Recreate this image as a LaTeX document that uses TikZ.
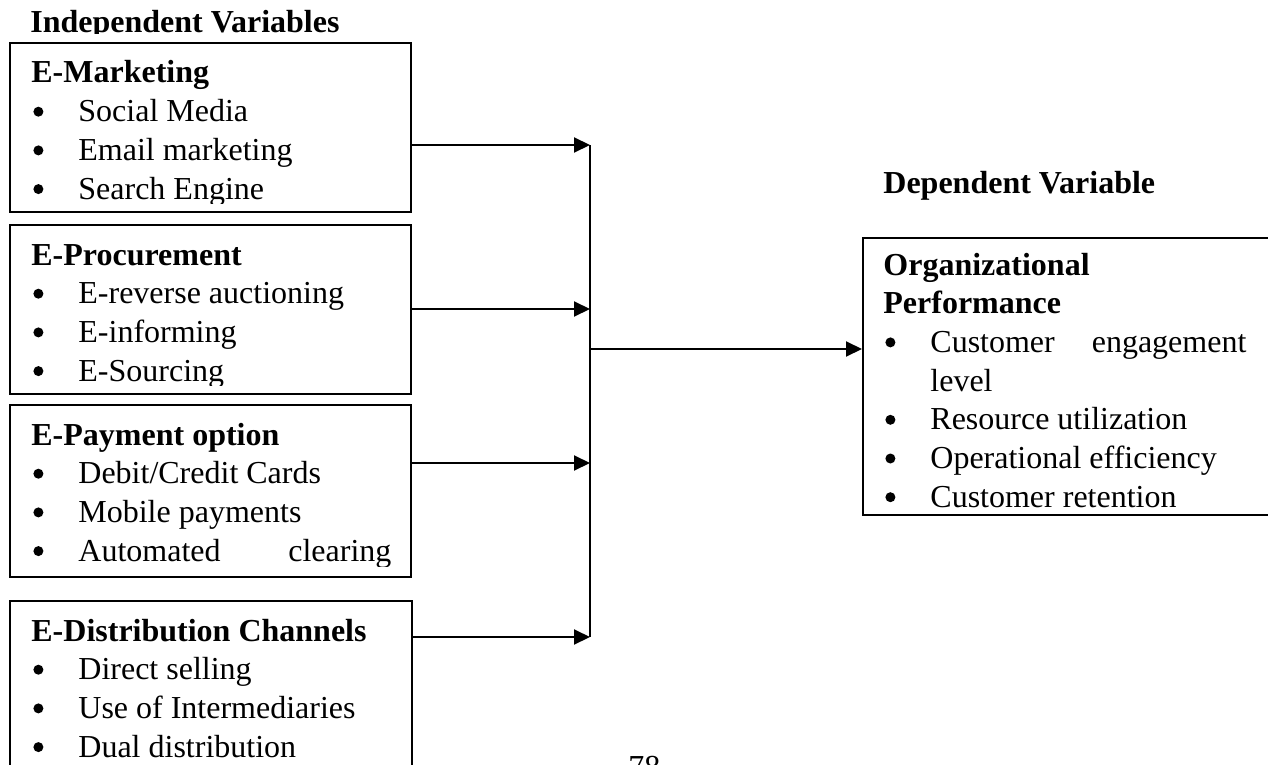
\documentclass[tikz,border=0pt]{standalone}
\usepackage{fontspec}
\setmainfont{Liberation Serif}
\usetikzlibrary{arrows.meta,fit}

\newcommand{\itm}{\makebox[23.5pt][l]{\hspace{1pt}\tikz[baseline=0pt]\fill (0pt,5pt) circle (2.5pt);}}
\newcommand{\boxfont}{\fontsize{16}{19.35}\selectfont}

\begin{document}
\begin{tikzpicture}[x=0.5pt,y=-0.5pt,
kasten/.style={draw=black,line width=1pt,inner sep=0pt},
liste/.style={anchor=base west,inner sep=0pt,font=\boxfont},
titel/.style={liste,font=\boxfont\bfseries},
pfeil/.style={line width=1pt,-{Triangle[length=8pt,width=7.5pt]}}]
\useasboundingbox (0,0) rectangle (1268,765);

% headings
\begin{scope}
\clip (0,0) rectangle (1268,34);
\node[titel](iv) at (30,33){Independent Variables};
\end{scope}
\node[titel](dv) at (883,193){Dependent Variable};

% independent variables
\node[kasten,fit={(10,43) (411,212)}](mkt){};
\node[kasten,fit={(10,225) (411,394)}](proc){};
\node[kasten,fit={(10,405) (411,577)}](pay){};
\node[kasten,fit={(10,601) (412,800)}](dist){};

\begin{scope}
\clip (10,43) rectangle (411,203);
\node[liste](mkt-txt) at (31,83){\parbox[t]{190pt}{\textbf{E-Marketing}\\
\itm Social Media\\
\itm Email marketing\\
\itm Search Engine}};
\end{scope}
\begin{scope}
\clip (10,225) rectangle (411,385);
\node[liste](proc-txt) at (31,265){\parbox[t]{190pt}{\textbf{E-Procurement}\\
\itm E-reverse auctioning\\
\itm E-informing\\
\itm E-Sourcing}};
\end{scope}
\begin{scope}
\clip (10,405) rectangle (411,566);
\node[liste](pay-txt) at (31,445){\parbox[t]{190pt}{\textbf{E-Payment option}\\
\itm Debit/Credit Cards\\
\itm Mobile payments\\
\itm \makebox[156.5pt][s]{Automated\hfill clearing}}};
\end{scope}
\node[liste](dist-txt) at (31,641){\parbox[t]{190pt}{\textbf{E-Distribution Channels}\\
\itm Direct selling\\
\itm Use of Intermediaries\\
\itm Dual distribution}};

% dependent variable
\node[kasten,fit={(863,238) (1290,515)}](op){};
\node[liste](op-txt) at (883,275){\parbox[t]{200pt}{\textbf{Organizational}\\
\textbf{Performance}\\
\itm \makebox[158pt][s]{Customer\hfill engagement}\\
\hspace*{23.5pt}level\\
\itm Resource utilization\\
\itm Operational efficiency\\
\itm Customer retention}};

\node[liste](pg) at (628,777){78};

% connectors
\coordinate (j1) at (590,145);
\coordinate (j2) at (590,309);
\coordinate (j3) at (590,463);
\coordinate (j4) at (590,637);
\coordinate (j0) at (590,349);
\begin{scope}[pfeil]
\draw (mkt.east |- j1)--(j1);
\draw (proc.east |- j2)--(j2);
\draw (pay.east |- j3)--(j3);
\draw (dist.east |- j4)--(j4);
\draw (j0)--(op.west |- j0);
\end{scope}
\draw[line width=0.6pt] (j1)--(j4);
\end{tikzpicture}
\end{document}
